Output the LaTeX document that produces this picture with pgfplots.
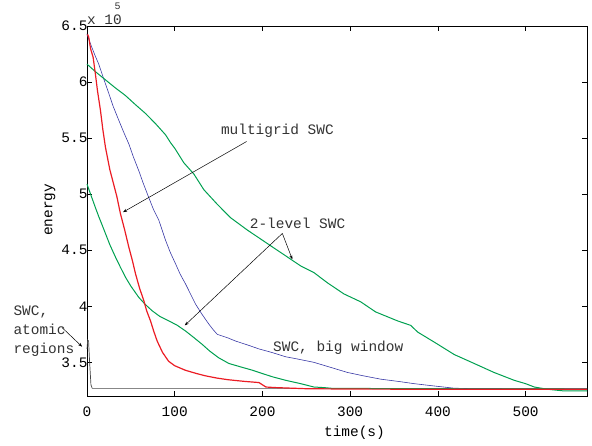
\documentclass[border=0pt]{standalone}
\usepackage{fontspec}
\setmainfont{Liberation Mono}
\usepackage{pgfplots}
\pgfplotsset{compat=1.18}
\usetikzlibrary{arrows.meta}

\definecolor{mred}{RGB}{235,28,36}
\definecolor{mgreen}{RGB}{0,160,80}
\definecolor{mblue}{RGB}{55,55,165}
\definecolor{mgray}{RGB}{70,70,70}

\begin{document}
\begin{tikzpicture}
\begin{axis}[
    scale only axis,
    width=500bp, height=370bp,
    xmin=0, xmax=570,
    ymin=3.2, ymax=6.5,
    xtick={0,100,200,300,400,500},
    ytick={3.5,4,4.5,5,5.5,6,6.5},
    yticklabels={3.5,4,4.5,5,5.5,6,6.5},
    tick align=inside,
    major tick length=5bp,
    axis line style={line width=0.9pt},
    every tick/.style={black, line width=0.6pt},
    clip=false,
    font=\fontsize{14.5}{17}\selectfont,
    /pgf/number format/assume math mode=true,
    xticklabel style={yshift=-7bp},
    yticklabel style={xshift=4bp},
    xlabel={time(s)},
    ylabel={energy},
    every axis x label/.style={at={(rel axis cs:0.535,-0.1)}, anchor=center},
    every axis y label/.style={at={(rel axis cs:-0.074,0.503)}, anchor=center, rotate=90},
]
% SWC, atomic regions
\addplot[mgray, line width=0.7pt] coordinates {
(0,3.62) (0.8,3.70) (1.8,3.69) (3,3.50) (4.5,3.30) (6,3.268) (570,3.268)
};
% SWC, big window
\addplot[mblue, line width=0.6pt] coordinates {
(0,6.43) (1.2,6.40) (5,6.32) (9,6.24) (13.4,6.16) (19,6.03) (24.8,5.90)
(30,5.78) (36.2,5.66) (42,5.55) (47.6,5.45) (53,5.33) (59,5.21) (64,5.10)
(70.4,4.97) (76,4.86) (81.8,4.77) (89.5,4.59) (95,4.48) (100.9,4.38)
(106,4.29) (112.3,4.20) (118,4.11) (123.7,4.02) (131,3.93) (139,3.84)
(144,3.79) (148.5,3.75) (160,3.72) (169.4,3.69) (185,3.65) (196,3.62)
(210,3.59) (226.5,3.55) (240,3.53) (258.8,3.50) (280,3.45) (297,3.41)
(315,3.38) (335,3.35) (355,3.33) (373,3.31) (395,3.29) (418,3.27)
(440,3.265) (570,3.262)
};
% 2-level SWC (fast)
\addplot[mgreen, line width=1pt] coordinates {
(0,5.09) (5,4.98) (9.6,4.88) (13.4,4.80) (17,4.73) (21,4.65) (26,4.55)
(32.4,4.44) (38,4.35) (43.8,4.26) (50,4.18) (59,4.08) (66,4.02) (74.3,3.96)
(83,3.91) (93.3,3.87) (103,3.83) (112.3,3.78) (122,3.72) (131.4,3.66)
(140,3.60) (150.3,3.54) (161.8,3.49) (175,3.46) (188.5,3.43) (200,3.40)
(212,3.37) (226.5,3.34) (243.6,3.31) (258.8,3.28) (270,3.275) (280,3.268)
(400,3.265) (570,3.262)
};
% 2-level SWC (slow)
\addplot[mgreen, line width=1pt] coordinates {
(0,6.16) (10,6.09) (21,6.02) (32,5.95) (43.8,5.88) (55,5.80) (66.7,5.72)
(78,5.63) (89.5,5.53) (95.2,5.46) (100,5.41) (110.4,5.28) (121.8,5.18)
(133.2,5.04) (148.5,4.91) (163.7,4.79) (182.8,4.68) (205.6,4.56) (215,4.51)
(226.5,4.45) (243.6,4.36) (258.8,4.30) (274,4.21) (293,4.11) (312,4.04)
(329,3.95) (354,3.87) (369,3.83) (377,3.77) (396,3.68) (418.6,3.57)
(441.4,3.49) (464,3.41) (487,3.34) (500,3.31) (510,3.28) (525,3.26)
(544,3.245) (570,3.245)
};
% multigrid SWC
\addplot[mred, line width=1.2pt] coordinates {
(0,6.42) (1,6.42) (2,6.40) (4,6.30) (7,6.22) (9.6,6.07) (12,5.92) (15.3,5.75)
(18,5.58) (21,5.42) (26,5.22) (30,5.10) (34,4.98) (38,4.83) (43,4.68)
(47.6,4.53) (52,4.40) (55.3,4.29) (60,4.16) (64.8,4.05) (68,3.96) (72.4,3.87)
(76,3.78) (80,3.69) (86,3.59) (93,3.51) (100,3.47) (112,3.43) (125,3.40)
(135,3.38) (148,3.36) (161,3.345) (180,3.33) (196,3.32) (200,3.30) (204,3.28)
(215,3.275) (250,3.265) (300,3.262) (400,3.26) (570,3.26)
};

% annotations
\draw[black, line width=0.5pt, -{Stealth[length=4pt,width=3pt]}] (axis cs:182,5.47) -- (axis cs:41.2,4.84);
\node[anchor=center, inner sep=0pt, text=black!80] at (axis cs:217,5.569) {multigrid SWC};
\draw[black, line width=0.5pt, -{Stealth[length=4pt,width=3pt]}] (axis cs:222.7,4.65) -- (axis cs:234,4.42);
\draw[black, line width=0.5pt, -{Stealth[length=4pt,width=3pt]}] (axis cs:222.7,4.65) -- (axis cs:111.5,3.83);
\node[anchor=center, inner sep=0pt, text=black!80] at (axis cs:240,4.736) {2-level SWC};
\node[anchor=center, inner sep=0pt, text=black!80] at (axis cs:286.4,3.634) {SWC, big window};
\draw[black, line width=0.5pt, -{Stealth[length=4pt,width=3pt]}] (axis cs:-28.4,3.81) -- (axis cs:-5.6,3.64);
\node[anchor=west, align=left, inner sep=0pt, text=black!80,
      font=\fontsize{14.5}{19}\selectfont] at (axis cs:-84,3.78) {SWC,\\atomic\\regions};
% exponent
\node[anchor=center, inner sep=0pt, text=black!80] at (axis cs:19.9,6.555) {x 10};
\node[anchor=center, inner sep=0pt, text=black!80, font=\fontsize{10}{10}\selectfont] at (axis cs:35,6.675) {5};

\coordinate (bl) at (rel axis cs:0,0);
\end{axis}
\pgfresetboundingbox
\path[use as bounding box] ([xshift=-87bp,yshift=-50bp]bl) rectangle ([xshift=505bp,yshift=396bp]bl);
\end{tikzpicture}
\end{document}
